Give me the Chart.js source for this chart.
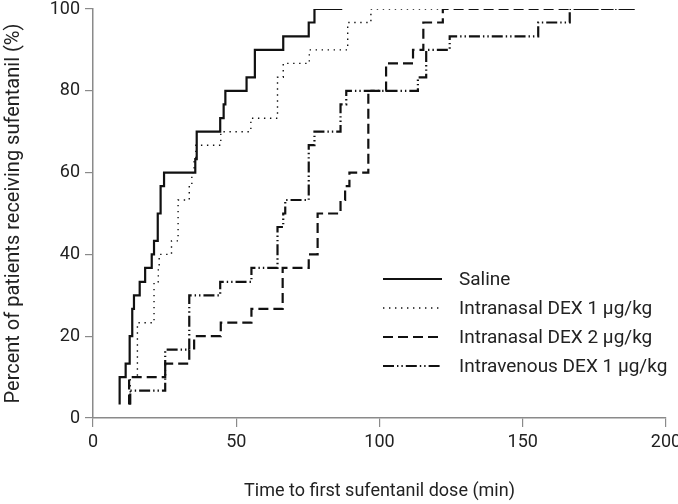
<!DOCTYPE html>
<html>
<head>
<meta charset="utf-8">
<script src="https://cdn.jsdelivr.net/npm/chart.js@4.4.1/dist/chart.umd.min.js"></script>
<style>
  html, body { margin: 0; padding: 0; background: #fff; }
  #wrap { width: 678px; height: 504px; position: relative; }
  canvas { display: block; }
</style>
</head>
<body>
<div id="wrap"><canvas id="c" width="678" height="504"></canvas></div>
<script>
// ---- data (time in minutes, cumulative percent) ----
const seriesLabels = ['Saline', 'Intranasal DEX 1 μg/kg', 'Intranasal DEX 2 μg/kg', 'Intravenous DEX 1 μg/kg'];

const salineTime = [9.3, 9.3, 11.4, 12.8, 13.7, 14.3, 16.3, 18.2, 20.5, 21.3, 22.6, 23.6, 24.8, 35.7, 36.2, 44.4, 45.6, 46.2, 53.6, 56.5, 66.4, 75.3, 77.3, 87];
const salinePct  = [3.3, 10, 13.3, 20, 26.7, 30, 33.3, 36.7, 40, 43.3, 50, 56.7, 60, 63.3, 70, 73.3, 76.7, 80, 83.3, 90, 93.3, 96.7, 100, 100];

const in1Time = [13, 13, 15.5, 21.3, 22.8, 23.1, 27.4, 29.7, 33.6, 34.5, 35.3, 35.9, 44.6, 55.1, 64.4, 66.4, 75.5, 88.9, 97, 122];
const in1Pct  = [3.3, 10, 23.3, 33.3, 36.7, 40, 43.3, 53.3, 56.7, 60, 63.3, 66.7, 70, 73.3, 83.3, 86.7, 90, 96.7, 100, 100];

const in2Time = [12.6, 12.6, 25.2, 33.6, 35.3, 44.6, 55.3, 66.2, 75.3, 78.4, 86.4, 88, 89.5, 96.1, 102.3, 111.7, 115.3, 122.1, 189];
const in2Pct  = [3.3, 10, 13.3, 16.7, 20, 23.3, 26.7, 36.7, 40, 50, 53.3, 56.7, 60, 80, 86.7, 90, 96.7, 100, 100];

const ivTime = [13, 13, 25.2, 33.6, 44.4, 55.3, 64.4, 66.4, 67.1, 75.3, 77.3, 86.4, 88.4, 113.4, 116.3, 124.5, 155.4, 166.4, 189];
const ivPct  = [3.3, 6.7, 16.7, 30, 33.3, 36.7, 46.7, 50, 53.3, 66.7, 70, 76.7, 80, 83.3, 90, 93.3, 96.7, 100, 100];

const xTicks = [0, 50, 100, 150, 200];
const yTicks = [0, 20, 40, 60, 80, 100];

const toPts = (t, p) => t.map((v, i) => ({ x: v, y: p[i] }));

const FONT = "'Roboto', 'Liberation Sans', sans-serif";
const TEXT = '#222';
const AXIS = '#8a8a8a';

const styles = [
  { borderWidth: 2.2, borderDash: [] },
  { borderWidth: 1.4, borderDash: [1.4, 4.6] },
  { borderWidth: 2.2, borderDash: [10, 5] },
  { borderWidth: 2.2, borderDash: [11, 3, 1.4, 3, 1.4, 3] }
];

const datasets = [
  toPts(salineTime, salinePct),
  toPts(in1Time, in1Pct),
  toPts(in2Time, in2Pct),
  toPts(ivTime, ivPct)
].map((d, i) => ({
  label: seriesLabels[i],
  data: d,
  borderColor: '#111',
  backgroundColor: '#111',
  borderWidth: styles[i].borderWidth,
  borderDash: styles[i].borderDash,
  borderCapStyle: 'butt',
  stepped: 'before',
  pointRadius: 0,
  fill: false,
  tension: 0
}));

const inlineLegend = {
  id: 'inlineLegend',
  afterDraw(chart) {
    const ctx = chart.ctx;
    const lx0 = 383, lx1 = 442, tx = 459, y0 = 279, dy = 29;
    chart.data.datasets.forEach((ds, i) => {
      const y = y0 + i * dy;
      ctx.save();
      ctx.strokeStyle = ds.borderColor;
      ctx.lineWidth = ds.borderWidth;
      ctx.setLineDash(ds.borderDash || []);
      ctx.beginPath();
      ctx.moveTo(lx0, y);
      ctx.lineTo(lx1, y);
      ctx.stroke();
      ctx.setLineDash([]);
      ctx.fillStyle = TEXT;
      ctx.font = '19px ' + FONT;
      ctx.textBaseline = 'middle';
      ctx.textAlign = 'left';
      ctx.fillText(ds.label, tx, y + 1);
      ctx.restore();
    });
  }
};

new Chart(document.getElementById('c'), {
  type: 'line',
  data: { datasets },
  plugins: [inlineLegend],
  options: {
    responsive: false,
    animation: false,
    devicePixelRatio: 1,
    layout: { padding: { left: 0, top: 9, right: 12, bottom: 0 } },
    plugins: { legend: { display: false }, tooltip: { enabled: false } },
    scales: {
      x: {
        type: 'linear',
        min: 0, max: 200,
        afterBuildTicks: s => { s.ticks = xTicks.map(v => ({ value: v })); },
        afterFit: s => { s.height = 86; s.paddingLeft = 0; s.paddingRight = 0; },
        grid: { drawOnChartArea: false, drawTicks: true, tickLength: 9, color: AXIS, lineWidth: 1.2 },
        border: { color: AXIS, width: 1.5 },
        ticks: { color: TEXT, font: { family: FONT, size: 18 }, padding: 5, maxRotation: 0 },
        title: { display: true, text: 'Time to first sufentanil dose (min)', color: TEXT, font: { family: FONT, size: 18 }, padding: { top: 16, bottom: 2 } }
      },
      y: {
        type: 'linear',
        min: 0, max: 100,
        afterBuildTicks: s => { s.ticks = yTicks.map(v => ({ value: v })); },
        afterFit: s => { s.width = 93; s.paddingTop = 0; s.paddingBottom = 0; },
        grid: { drawOnChartArea: false, drawTicks: true, tickLength: 8, color: AXIS, lineWidth: 1.2 },
        border: { color: AXIS, width: 1.5 },
        ticks: { color: TEXT, font: { family: FONT, size: 18 }, padding: 5 },
        title: { display: true, text: 'Percent of patients receiving sufentanil (%)', color: TEXT, font: { family: FONT, size: 20 }, padding: { top: 2, bottom: 0 } }
      }
    }
  }
});
</script>
</body>
</html>
